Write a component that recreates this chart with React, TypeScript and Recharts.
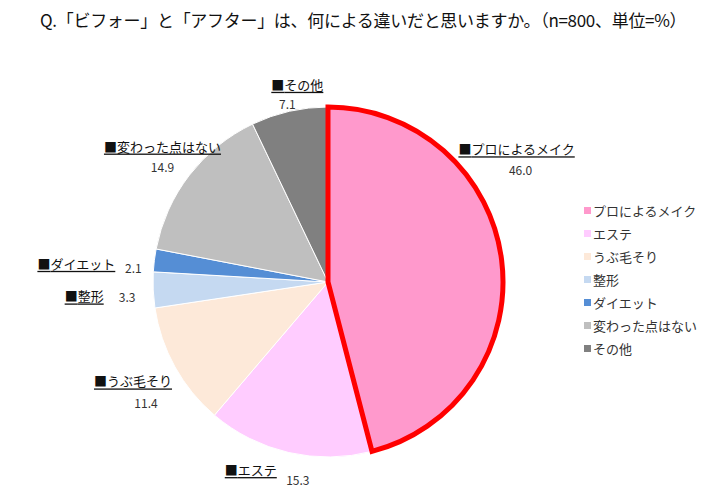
import { PieChart, Pie, Cell } from 'recharts'

const CATEGORIES = ['プロによるメイク', 'エステ', 'うぶ毛そり', '整形', 'ダイエット', '変わった点はない', 'その他']
const VALUES = [46.0, 15.3, 11.4, 3.3, 2.1, 14.9, 7.1]
const COLORS = ['#FF99CC', '#FFCCFF', '#FDE9D9', '#C5D9F1', '#558ED5', '#BFBFBF', '#808080']
const TITLE = 'Q.「ビフォー」と「アフター」は、何による違いだと思いますか。（n=800、単位=%）'

// label nudges from the slice's outer mid point: [name dx, name dy, value dx, value dy]
const LABEL_NUDGE = [
  [15, -111, 4, 21],
  [-38, 17, 47, 10],
  [-42, 14, 13, 22],
  [-69, 6, 43, 1],
  [-78, 3, 57, 4],
  [-27, -29, 0, 20],
  [8, -27, -10, 19],
]

const data = CATEGORIES.map((name, i) => ({ name, value: VALUES[i] }))
const FONT = '"Noto Sans CJK JP", "Noto Sans", sans-serif'
const RADIAN = Math.PI / 180

function renderLabel(props: any) {
  const { cx, cy, midAngle, outerRadius, index, name, value } = props
  const x0 = cx + outerRadius * Math.cos(-midAngle * RADIAN)
  const y0 = cy + outerRadius * Math.sin(-midAngle * RADIAN)
  const [nx, ny, vx, vy] = LABEL_NUDGE[index]
  return (
    <g>
      <text
        x={x0 + nx}
        y={y0 + ny}
        textAnchor="middle"
        dominantBaseline="central"
        fontSize={13}
        fill="#111"
        textDecoration="underline"
      >
        ■{name}
      </text>
      <text
        x={x0 + nx + vx}
        y={y0 + ny + vy}
        textAnchor="middle"
        dominantBaseline="central"
        fontSize={12}
        fill="#333"
      >
        {Number(value).toFixed(1)}
      </text>
    </g>
  )
}

function LegendList() {
  return (
    <ul style={{ listStyle: 'none', margin: 0, padding: 0 }}>
      {CATEGORIES.map((c, i) => (
        <li key={c} style={{ display: 'flex', alignItems: 'center', height: 23, fontSize: 13, color: '#333' }}>
          <span style={{ width: 7, height: 7, background: COLORS[i], marginRight: 2, display: 'inline-block' }} />
          {c}
        </li>
      ))}
    </ul>
  )
}

export default function App() {
  return (
    <div style={{ position: 'relative', width: 720, height: 503, background: '#fff', fontFamily: FONT }}>
      <style>{`body{margin:0}`}</style>
      <div
        style={{
          position: 'absolute',
          left: 40,
          top: 7,
          fontSize: 17,
          color: '#111',
          whiteSpace: 'nowrap',
          letterSpacing: -0.3,
        }}
      >
        {TITLE}
      </div>
      <PieChart width={720} height={503} style={{ fontFamily: FONT }}>
        <Pie
          data={data}
          dataKey="value"
          nameKey="name"
          cx={323}
          cy={277}
          outerRadius={175}
          startAngle={90}
          endAngle={-270}
          stroke="#fff"
          strokeWidth={1}
          label={renderLabel}
          labelLine={false}
          isAnimationActive={false}
        >
          {data.map((_, i) => (
            <Cell key={i} fill={COLORS[i]} />
          ))}
        </Pie>
        <Pie
          data={data}
          dataKey="value"
          nameKey="name"
          cx={323}
          cy={277}
          outerRadius={175}
          startAngle={90}
          endAngle={-270}
          isAnimationActive={false}
          legendType="none"
        >
          {data.map((_, i) => (
            <Cell
              key={i}
              fill="none"
              stroke={i === 0 ? '#FF0000' : 'none'}
              strokeWidth={i === 0 ? 5 : 0}
              strokeLinejoin="miter"
            />
          ))}
        </Pie>
      </PieChart>
      <div style={{ position: 'absolute', left: 584, top: 199 }}>
        <LegendList />
      </div>
    </div>
  )
}
